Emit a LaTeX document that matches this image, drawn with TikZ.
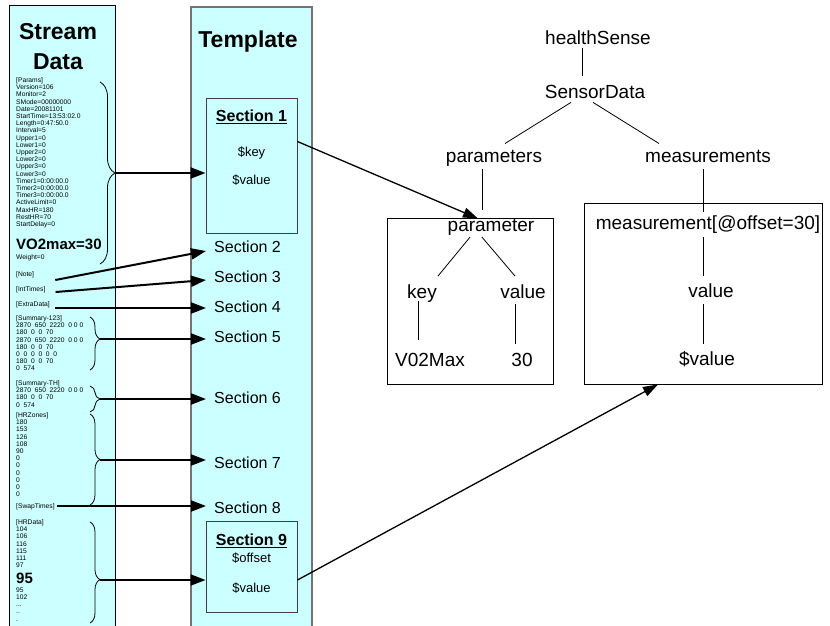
\documentclass[tikz,border=0pt]{standalone}
\usepackage{fontspec}
\setmainfont{Liberation Sans}
\usetikzlibrary{arrows.meta,decorations.pathreplacing,positioning}
\definecolor{lanecyan}{HTML}{CCFFFF}

\begin{document}
\begin{tikzpicture}[
            x=1pt, y=-1pt,
            lane/.style={fill=lanecyan},
            heading/.style={font=\fontsize{23}{30}\selectfont\bfseries, align=center, inner sep=0pt},
            rawtext/.style={font=\fontsize{6.7}{7.2}\selectfont, align=left, anchor=north west, inner sep=0pt},
            rawbig/.style={font=\fontsize{15}{17}\selectfont\bfseries, anchor=west, inner sep=0pt},
            seclabel/.style={font=\fontsize{16}{18}\selectfont, anchor=west, inner xsep=8pt, inner ysep=0pt},
            secbox/.style={draw=black!75, fill=lanecyan, line width=0.9pt},
            sectitle/.style={font=\fontsize{16}{18}\selectfont\bfseries, anchor=base, inner sep=0pt},
            secvar/.style={font=\fontsize{13}{15}\selectfont, anchor=base, inner sep=0pt},
            treebox/.style={draw, line width=0.9pt},
            tree/.style={font=\fontsize{19}{21}\selectfont, anchor=base, inner sep=0pt},
            branch/.style={line width=0.8pt},
            bracket/.style={decorate, decoration={brace, amplitude=#1}, line width=0.8pt},
            feed/.style={-{Triangle[length=15pt, width=11pt]}, line width=2pt},
            link/.style={-{Triangle[length=15pt, width=10pt]}, line width=1.3pt}
            ]

            \useasboundingbox (0,0) rectangle (830,625);

            % Lanes
            \fill[lane] (9,5) rectangle (115,630);
            \draw[line width=1pt] (9,630) -- (9,5) -- (115,5) -- (115,630);
            \fill[lane] (191,7) rectangle (312,630);
            \draw[black!55, line width=1.3pt] (191,630) -- (191,7) -- (312,7) -- (312,630);

            % Stream data
            \node[heading] (streamtitle) at (58,47) {Stream\\Data};
            \node[rawtext] (rawparams) at (16,77.5) {[Params]\\Version=106\\Monitor=2\\SMode=00000000\\Date=20081101\\StartTime=13:53:02.0\\Length=0:47:50.0\\Interval=5\\Upper1=0\\Lower1=0\\Upper2=0\\Lower2=0\\Upper3=0\\Lower3=0\\Timer1=0:00:00.0\\Timer2=0:00:00.0\\Timer3=0:00:00.0\\ActiveLimit=0\\MaxHR=180\\RestHR=70\\StartDelay=0};
            \node[rawbig] (vo2) at (16,244) {VO2max=30};
            \node[rawtext, anchor=west] (weight) at (16,258) {Weight=0};
            \node[rawtext, anchor=west] (note) at (16,275) {[Note]};
            \node[rawtext, anchor=west] (inttimes) at (16,290) {[IntTimes]};
            \node[rawtext, anchor=west] (extradata) at (16,304.5) {[ExtraData]};
            \node[rawtext] (summary) at (16,315.5) {[Summary-123]\\2870~~650~~2220~~0 0 0\\180~~0~~0~~70\\2870~~650~~2220~~0 0 0\\180~~0~~0~~70\\0~~0~~0~~0~~0~~0\\180~~0~~0~~70\\0~~574};
            \node[rawtext] (summaryth) at (16,380.5) {[Summary-TH]\\2870~~650~~2220~~0 0 0\\180~~0~~0~~70\\0~~574};
            \node[rawtext] (hrzones) at (16,412.5) {[HRZones]\\180\\153\\126\\108\\90\\0\\0\\0\\0\\0\\0};
            \node[rawtext, anchor=west] (swaptimes) at (16,507) {[SwapTimes]};
            \node[rawtext] (hrdata) at (16,519.5) {[HRData]\\104\\106\\116\\115\\111\\97};
            \node[rawbig] (big95) at (16,578) {95};
            \node[rawtext] (hrrest) at (16,587.5) {95\\102\\...\\..\\.};

            % Braces
            \draw[bracket=15pt] (100,82) -- (100,264);
            \draw[bracket=10pt, decoration={aspect=0.415}] (90,317) -- (90,370);
            \draw[bracket=10pt] (90,386) -- (90,412);
            \draw[bracket=10pt] (90,414) -- (90,505);
            \draw[bracket=10pt, decoration={aspect=0.57}] (90,522) -- (90,623);
            \coordinate (tip1) at (115,173);
            \coordinate (tip5) at (100,339);
            \coordinate (tip6) at (100,399);
            \coordinate (tip7) at (100,460);
            \coordinate (tip9) at (100,580);

            % Template
            \node[heading, anchor=base] (templatetitle) at (248,47) {Template};
            \node[secbox, minimum width=91pt, minimum height=135pt] (sec1) at (251.5,165.5) {};
            \node[sectitle] (sec1title) at (251.5,121.5) {\underline{Section 1}};
            \node[secvar] (sec1key) at (251.5,156.5) {\$key};
            \node[secvar] (sec1value) at (251.5,184.5) {\$value};
            \node[seclabel] (sec2) at (206,247) {Section 2};
            \node[seclabel] (sec3) at (206,277) {Section 3};
            \node[seclabel] (sec4) at (206,307) {Section 4};
            \node[seclabel] (sec5) at (206,337) {Section 5};
            \node[seclabel] (sec6) at (206,398) {Section 6};
            \node[seclabel] (sec7) at (206,463) {Section 7};
            \node[seclabel] (sec8) at (206,508) {Section 8};
            \node[secbox, minimum width=91pt, minimum height=91pt] (sec9) at (251.5,566.5) {};
            \node[sectitle] (sec9title) at (251.5,545.5) {\underline{Section 9}};
            \node[secvar] (sec9offset) at (251.5,562.5) {\$offset};
            \node[secvar] (sec9value) at (251.5,592.5) {\$value};

            % Stream to template
            \draw[feed] (tip1) -- (sec1.west |- tip1);
            \draw[feed] ([shift={(21,5)}]note.east) -- ([shift={(0,4)}]sec2.west);
            \draw[feed] ([shift={(10,2)}]inttimes.east) -- ([shift={(0,3)}]sec3.west);
            \draw[feed] ([shift={(5.5,3.5)}]extradata.east) -- ([shift={(0,1)}]sec4.west);
            \draw[feed] (tip5) -- (sec5.west |- tip5);
            \draw[feed] (tip6) -- (sec6.west |- tip6);
            \draw[feed] (tip7) -- (sec7.west |- tip7);
            \draw[feed] ([shift={(2.5,-1)}]swaptimes.east) -- ([shift={(0,-2)}]sec8.west);
            \draw[feed] (tip9) -- (sec9.west |- tip9);

            % Output tree
            \node[tree] (health) at (598,44) {healthSense};
            \node[tree] (sensor) at (595,98) {SensorData};
            \node[tree] (parameters) at (494,162) {parameters};
            \node[tree] (measurements) at (708,162) {measurements};
            \node[treebox, minimum width=166pt, minimum height=166pt] (pbox) at (470,301) {};
            \node[treebox, minimum width=238pt, minimum height=181pt] (mbox) at (703,293.5) {};
            \node[tree] (parameter) at (491,231) {parameter};
            \node[tree] (key) at (422,298) {key};
            \node[tree] (pvalue) at (523,298) {value};
            \node[tree] (vmax) at (430,366) {V02Max};
            \node[tree] (thirty) at (522,366) {30};
            \node[tree] (measurement) at (708,229) {measurement[@offset=30]};
            \node[tree] (mvalue) at (711,297) {value};
            \node[tree] (dvalue) at (707,365) {\$value};

            \draw[branch] ([shift={(-16,4)}]health.south) -- ([shift={(-13,-9)}]sensor.north);
            \draw[branch] ([shift={(-24,4)}]sensor.south) -- ([shift={(11,-6)}]parameters.north);
            \draw[branch] ([shift={(-2,4)}]sensor.south) -- ([shift={(-49,-6)}]measurements.north);
            \draw[branch] ([shift={(-12,3)}]parameters.south) -- ([shift={(-9,-9)}]parameter.north);
            \draw[branch] ([shift={(-5,7)}]measurements.south) -- ([shift={(-5,-3)}]measurement.north);
            \draw[branch] ([shift={(-21,2)}]parameter.south) -- ([shift={(16,-8)}]key.north);
            \draw[branch] ([shift={(-9,2)}]parameter.south) -- ([shift={(-8,-8)}]pvalue.north);
            \draw[branch] ([shift={(-4,-1)}]key.south) -- ([shift={(-12,-13)}]vmax.north);
            \draw[branch] ([shift={(-8,6)}]pvalue.south) -- ([shift={(-7,-9)}]thirty.north);
            \draw[branch] ([shift={(-5,4)}]measurement.south) -- ([shift={(-8,-7)}]mvalue.north);
            \draw[branch] ([shift={(-8,7)}]mvalue.south) -- ([shift={(-4,-7)}]dvalue.north);

            % Template to tree
            \draw[link] ([shift={(0,-24)}]sec1.east) -- ([shift={(-13,0)}]parameter.north);
            \draw[link] (sec9.east |- tip9) -- ([shift={(-45,0)}]mbox.south);

\end{tikzpicture}
\end{document}
